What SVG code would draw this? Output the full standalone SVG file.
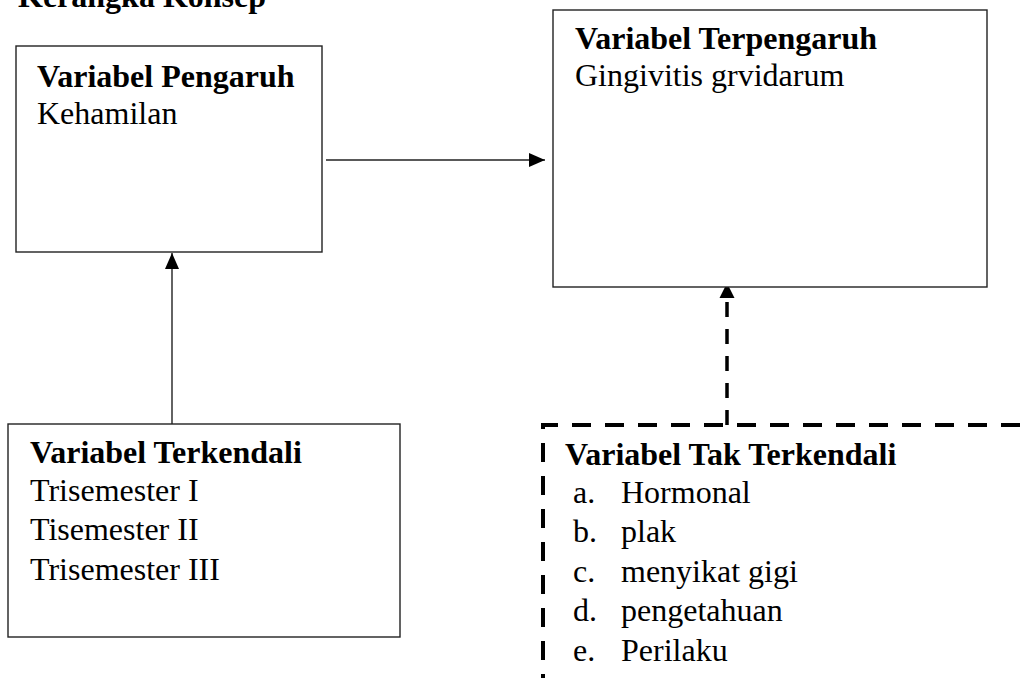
<svg xmlns="http://www.w3.org/2000/svg" width="1022" height="678" viewBox="0 0 1022 678">
<style>
text{font-family:"Liberation Serif","Times New Roman",serif;font-size:32px;fill:#000}
.b{font-weight:bold}
.box{fill:#fff;stroke:#222;stroke-width:1.4}
.ln{stroke:#222;stroke-width:1.4;fill:none}
.dash{stroke:#000;stroke-width:4;fill:none;stroke-dasharray:19 14}
.dl{stroke:#000;stroke-width:3.5;fill:none;stroke-dasharray:15 12}
</style>
<defs>
<marker id="ah" viewBox="0 0 16 14" refX="16" refY="7" markerWidth="16" markerHeight="14" markerUnits="userSpaceOnUse" orient="auto">
<path d="M0,0 L16,7 L0,14 Z" fill="#000"/>
</marker>
</defs>
<rect width="1022" height="678" fill="#fff"/>
<text class="b" x="18" y="7">Kerangka Konsep</text>
<g id="connectors">
<line class="ln" x1="326" y1="160" x2="545" y2="160" marker-end="url(#ah)"/>
<line class="ln" x1="172" y1="424" x2="172" y2="253" marker-end="url(#ah)"/>
<line class="dl" x1="727" y1="425" x2="727" y2="297"/>
<path d="M719.5,298 L727,283 L734.5,298 Z" fill="#000"/>
</g>
<g id="node-pengaruh">
<rect class="box" x="16" y="46" width="306" height="206"/>
<text class="b" x="37" y="87">Variabel Pengaruh</text>
<text x="37" y="124">Kehamilan</text>
</g>
<g id="node-terpengaruh">
<rect class="box" x="553" y="10" width="434" height="277"/>
<text class="b" x="575" y="49">Variabel Terpengaruh</text>
<text x="575" y="86">Gingivitis grvidarum</text>
</g>
<g id="node-terkendali">
<rect class="box" x="8" y="424" width="392" height="213"/>
<text class="b" x="30" y="463">Variabel Terkendali</text>
<text x="30" y="501">Trisemester I</text>
<text x="30" y="540">Tisemester II</text>
<text x="30" y="580">Trisemester III</text>
</g>
<g id="node-tak-terkendali">
<path class="dash" d="M543,700 L543,425 L1040,425" style="stroke-dashoffset:-7"/>
<text class="b" x="565" y="465">Variabel Tak Terkendali</text>
<text x="573" y="503">a.</text><text x="621" y="503">Hormonal</text>
<text x="573" y="542">b.</text><text x="621" y="542">plak</text>
<text x="573" y="582">c.</text><text x="621" y="582">menyikat gigi</text>
<text x="573" y="621">d.</text><text x="621" y="621">pengetahuan</text>
<text x="573" y="661">e.</text><text x="621" y="661">Perilaku</text>
</g>
</svg>
